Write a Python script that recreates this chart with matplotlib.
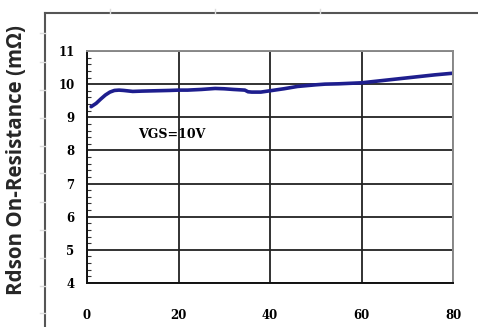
import matplotlib
matplotlib.use("Agg")
import matplotlib.pyplot as plt
from matplotlib.lines import Line2D
from matplotlib.ticker import MultipleLocator

# Drain current (A) vs. on-resistance (mOhm) at VGS = 10 V
current = [0.9, 2, 3, 4, 5, 6, 7, 8, 10, 12, 15, 18, 20, 22, 25, 28, 30, 32,
           34.5, 35.2, 36, 38, 40, 43, 46, 50, 52, 55, 60, 64, 68, 72, 76, 80]
rdson = [9.32, 9.42, 9.55, 9.67, 9.76, 9.81, 9.82, 9.81, 9.78, 9.79, 9.80,
         9.81, 9.82, 9.82, 9.84, 9.87, 9.86, 9.84, 9.82, 9.77, 9.76, 9.76,
         9.80, 9.86, 9.93, 9.98, 10.0, 10.01, 10.04, 10.10, 10.16, 10.22,
         10.28, 10.33]

x_ticks = [0, 20, 40, 60, 80]
y_ticks = [4, 5, 6, 7, 8, 9, 10, 11]
y_label = "Rdson On-Resistance (mΩ)"
annotation = "VGS=10V"

W, H = 478, 327
fig = plt.figure(figsize=(W / 100, H / 100), dpi=100)
fig.patch.set_facecolor("white")

ax = fig.add_axes([87 / W, 1 - 283 / H, (453 - 87) / W, (283 - 51) / H])
ax.set_xlim(0, 80)
ax.set_ylim(4, 11)

ax.plot(current, rdson, color="#1e1e8e", lw=2.6, solid_capstyle="round")

ax.set_xticks(x_ticks)
ax.set_yticks(y_ticks)
ax.yaxis.set_minor_locator(MultipleLocator(0.2))
ax.grid(True, which="major", color="#222222", lw=1.3)
ax.set_axisbelow(True)

tick_font = dict(family="DejaVu Serif", weight="bold", size=8.5)
ax.set_xticklabels([str(v) for v in x_ticks], **tick_font)
ax.set_yticklabels([str(v) for v in y_ticks], **tick_font)
ax.tick_params(axis="x", length=0, pad=19)
ax.tick_params(axis="y", which="major", direction="in", length=0, pad=9)
ax.tick_params(axis="y", which="minor", direction="in", length=3, width=0.8,
               color="#333333")

for side in ("left", "bottom"):
    ax.spines[side].set_color("#111111")
    ax.spines[side].set_linewidth(1.4)
for side in ("top", "right"):
    ax.spines[side].set_color("#8a8a8a")
    ax.spines[side].set_linewidth(1.4)

ax.text(18.5, 8.47, annotation, ha="center", va="center",
        family="DejaVu Serif", weight="bold", size=9)

# outer panel frame
fig.add_artist(Line2D([45 / W, 45 / W], [1 - 13 / H, 0], transform=fig.transFigure,
                      color="#555555", lw=1.5))
fig.add_artist(Line2D([45 / W, 1], [1 - 13 / H, 1 - 13 / H], transform=fig.transFigure,
                      color="#555555", lw=1.5))
for yp in [33, 62, 90, 118, 146, 173, 202, 230, 258, 286, 313]:
    fig.add_artist(Line2D([40 / W, 45 / W], [1 - yp / H, 1 - yp / H],
                          transform=fig.transFigure, color="#dddddd", lw=1))
for xp in [110, 215, 320]:
    fig.add_artist(Line2D([xp / W, xp / W], [1 - 9 / H, 1 - 13 / H],
                          transform=fig.transFigure, color="#dddddd", lw=1))

fig.text(17 / W, 1 - 160 / H, y_label, rotation=90, ha="center", va="center",
         family="Open Sans", weight="bold", size=14.8, color="#262626")

fig.savefig("out.png", dpi=100)
